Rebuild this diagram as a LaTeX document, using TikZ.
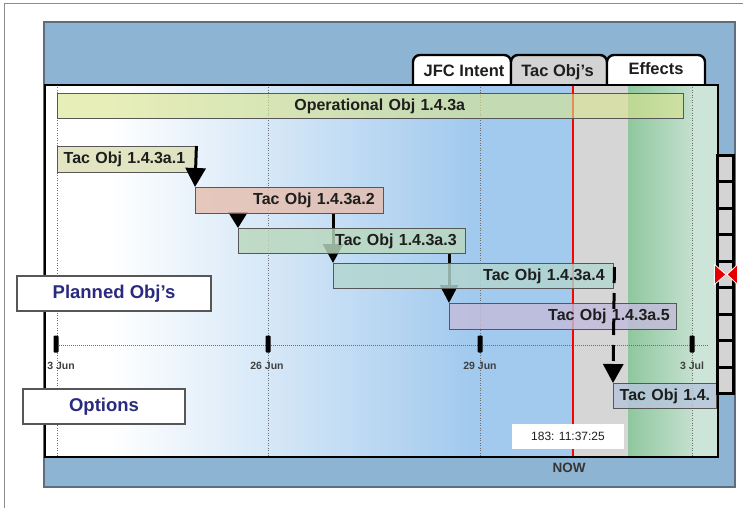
\documentclass[tikz,border=0pt]{standalone}
\usepackage{fontspec}
\setmainfont{Liberation Sans}
\usetikzlibrary{arrows.meta,calc}
\definecolor{framegray}{HTML}{8C8C8C}
\definecolor{panelblue}{HTML}{8EB4D3}
\definecolor{panelline}{HTML}{5E6E7E}
\definecolor{bgblue}{HTML}{A2CAEE}
\definecolor{graybg}{HTML}{D6D6D6}
\definecolor{greenA}{HTML}{90C79E}
\definecolor{greenB}{HTML}{C3E0CE}
\definecolor{greenC}{HTML}{CCE5D8}
\definecolor{tabgray}{HTML}{D3D3D3}
\definecolor{barline}{HTML}{575757}
\definecolor{txtdark}{HTML}{1E1E1E}
\definecolor{opfill}{HTML}{D9E48E}
\definecolor{fillA}{HTML}{DDE0B5}
\definecolor{fillB}{HTML}{E5BEAF}
\definecolor{fillC}{HTML}{BAD8BD}
\definecolor{fillD}{HTML}{B3D6CF}
\definecolor{fillE}{HTML}{C4BCDB}
\definecolor{fillF}{HTML}{B7C6DC}
\definecolor{navy}{HTML}{2A2A7E}
\definecolor{sqgray}{HTML}{D4D4D4}
\definecolor{gridgray}{HTML}{6E6E6E}
\pgfdeclarelayer{bg}
\pgfdeclarelayer{mid}
\pgfsetlayers{bg,mid,main}
\begin{document}
\begin{tikzpicture}[x=1pt,y=-1pt,
  bar/.style={draw=barline, line width=1.4pt, fill opacity=0.82, text opacity=1,
    font=\bfseries\fontsize{16}{18}\selectfont, text=txtdark, inner ysep=0pt, anchor=north west},
  dep/.style={line width=3pt, draw=black, -{Triangle[width=20pt,length=19pt]}},
  tabshape/.style={draw=black, line width=2.4pt, rounded corners=7pt},
  tabtext/.style={font=\bfseries\fontsize{16.5}{18}\selectfont, text=txtdark, inner sep=0pt},
  grid/.style={draw=gridgray, line width=0.7pt, dash pattern=on 1pt off 1.5pt},
  hgrid/.style={draw=gridgray, line width=1pt, dash pattern=on 1pt off 1pt},
  tick/.style={fill=black, rounded corners=1pt, minimum width=5pt, minimum height=17pt, inner sep=0pt},
  datelbl/.style={font=\bfseries\fontsize{10.5}{12}\selectfont, text=txtdark!85, inner sep=0pt},
  sidebox/.style={draw=barline, line width=1.2pt, fill=white, font=\bfseries\fontsize{18.5}{20}\selectfont, text=navy, inner sep=0pt},
  sq/.style={draw=black, line width=3pt, fill=sqgray, minimum width=16pt, minimum height=26.44pt, inner sep=0pt},
]
\useasboundingbox (0,0) rectangle (743,508);
\coordinate (inNW) at (45,85);
\coordinate (inSE) at (718,457);
\coordinate (g1) at (57,345);
\coordinate (g2) at (268,345);
\coordinate (g3) at (480,345);
\coordinate (g4) at (692,345);
\coordinate (hend) at (708,345);
\coordinate (nowx) at (573,345);

\begin{pgfonlayer}{bg}
% outer frame
\draw[framegray, line width=1pt] (4,508) -- (4,4) -- (743,4);
% blue panel
\draw[fill=panelblue, draw=panelline, line width=1.2pt] (44,22) rectangle (735,487);
% tabs
\draw[tabshape, fill=white] (413,90) -- (413,55) -- (511,55) -- (511,90);
\draw[tabshape, fill=tabgray] (511,90) -- (511,55) -- (607,55) -- (607,90);
\draw[tabshape, fill=white] (607,90) -- (607,55) -- (705,55) -- (705,90);
% chart background
\fill[white] (45,85) rectangle (110,457);
\shade[left color=white, right color=bgblue] (110,85) rectangle (470,457);
\fill[bgblue] (470,85) rectangle (573,457);
\fill[graybg] (573,85) rectangle (628,457);
\shade[left color=greenA, right color=greenB] (628,85) rectangle (692,457);
\fill[greenC] (692,85) rectangle (718,457);
% grid
\foreach \g in {g1,g2,g3,g4} \draw[grid] (\g |- inNW) -- (\g |- inSE);
\draw[hgrid] (g1) -- (hend);
\draw[red, line width=1.6pt] (nowx |- inNW) -- (nowx |- inSE);
% inner frame
\draw[black, line width=2.5pt] (inNW) rectangle (inSE);
\end{pgfonlayer}

% tab labels
\node[tabtext] (tjfc) at (464,71) {JFC Intent};
\node[tabtext] (ttac) at (557.5,72.5) {Tac Obj's};
\node[tabtext] (teff) at (656,69) {Effects};

% bars
\node[bar, fill=opfill, fill opacity=0.62, text width=626pt, inner xsep=0pt, align=center, minimum height=25pt] (op) at (57,93) {\hspace*{18pt}Operational Obj 1.4.3a};
\node[bar, fill=fillA, text width=126pt, inner xsep=6pt, align=left, minimum height=26pt] (b1) at (57,146) {Tac Obj 1.4.3a.1};
\node[bar, fill=fillB, text width=170pt, inner xsep=9pt, align=right, minimum height=26pt] (b2) at (195,187) {Tac Obj 1.4.3a.2};
\node[bar, fill=fillC, text width=209pt, inner xsep=9pt, align=right, minimum height=25pt] (b3) at (238,228) {Tac Obj 1.4.3a.3};
\node[bar, fill=fillD, text width=262pt, inner xsep=9pt, align=right, minimum height=25pt] (b4) at (333,263) {Tac Obj 1.4.3a.4};
\node[bar, fill=fillE, text width=213pt, inner xsep=7pt, align=right, minimum height=26pt] (b5) at (449,303) {Tac Obj 1.4.3a.5};
\node[bar, fill=fillF, text width=91pt, inner xsep=6pt, align=left, minimum height=25pt] (b6) at (613,383) {Tac Obj 1.4.};

% dependency arrows
\draw[dep] (b1.north east) -- (b2.north west);
\begin{pgfonlayer}{mid}
\draw[dep, -{Triangle[width=19pt,length=16pt]}] (b3.north west |- b2.south) -- (b3.north west);
\draw[dep] (b4.north west |- b2.south) -- (b4.north west);
\draw[dep, -{Triangle[width=18pt,length=18pt]}] (b5.north west |- b3.south) -- (b5.north west);
\end{pgfonlayer}
\draw[dep, dash pattern=on 16pt off 10pt] ($(b4.north east)+(0,4)$) -- (b6.north west);

% ticks and dates
\node[tick] (t1) at (56,344) {};
\node[tick] (t2) at (268,344) {};
\node[tick] (t3) at (480,344) {};
\node[tick] (t4) at (692,344) {};
\node[datelbl] (l1) at (61,366) {3 Jun};
\node[datelbl] (l2) at (267,366) {26 Jun};
\node[datelbl] (l3) at (480,366) {29 Jun};
\node[datelbl] (l4) at (692,366) {3 Jul};

% right column of squares
\foreach \i in {1,...,9} \node[sq] (sq\i) at (725.5,{155.5+26.44*(\i-0.5)}) {};
\fill[red!90!black, draw=white, line width=0.8pt] ($(sq5.center)+(-11,-10)$) -- ($(sq5.center)+(0.5,0)$) -- ($(sq5.center)+(-11,10)$) -- cycle;
\fill[red!90!black, draw=white, line width=0.8pt] ($(sq5.center)+(12,-10)$) -- ($(sq5.center)+(1.5,0)$) -- ($(sq5.center)+(12,10)$) -- cycle;

% side boxes
\node[sidebox, minimum width=194pt, minimum height=35pt] (planned) at (114,293.5) {Planned Obj's};
\node[sidebox, minimum width=162pt, minimum height=35pt] (options) at (104,406.5) {Options};

% clock and now
\node[fill=white, minimum width=112pt, minimum height=25pt, inner sep=0pt, font=\fontsize{12}{14}\selectfont, text=txtdark] (clock) at (568,436.5) {183: 11:37:25};
\node[font=\bfseries\fontsize{13.5}{15}\selectfont, text=txtdark!90, inner sep=0pt] (now) at (569,468) {NOW};
\end{tikzpicture}
\end{document}
